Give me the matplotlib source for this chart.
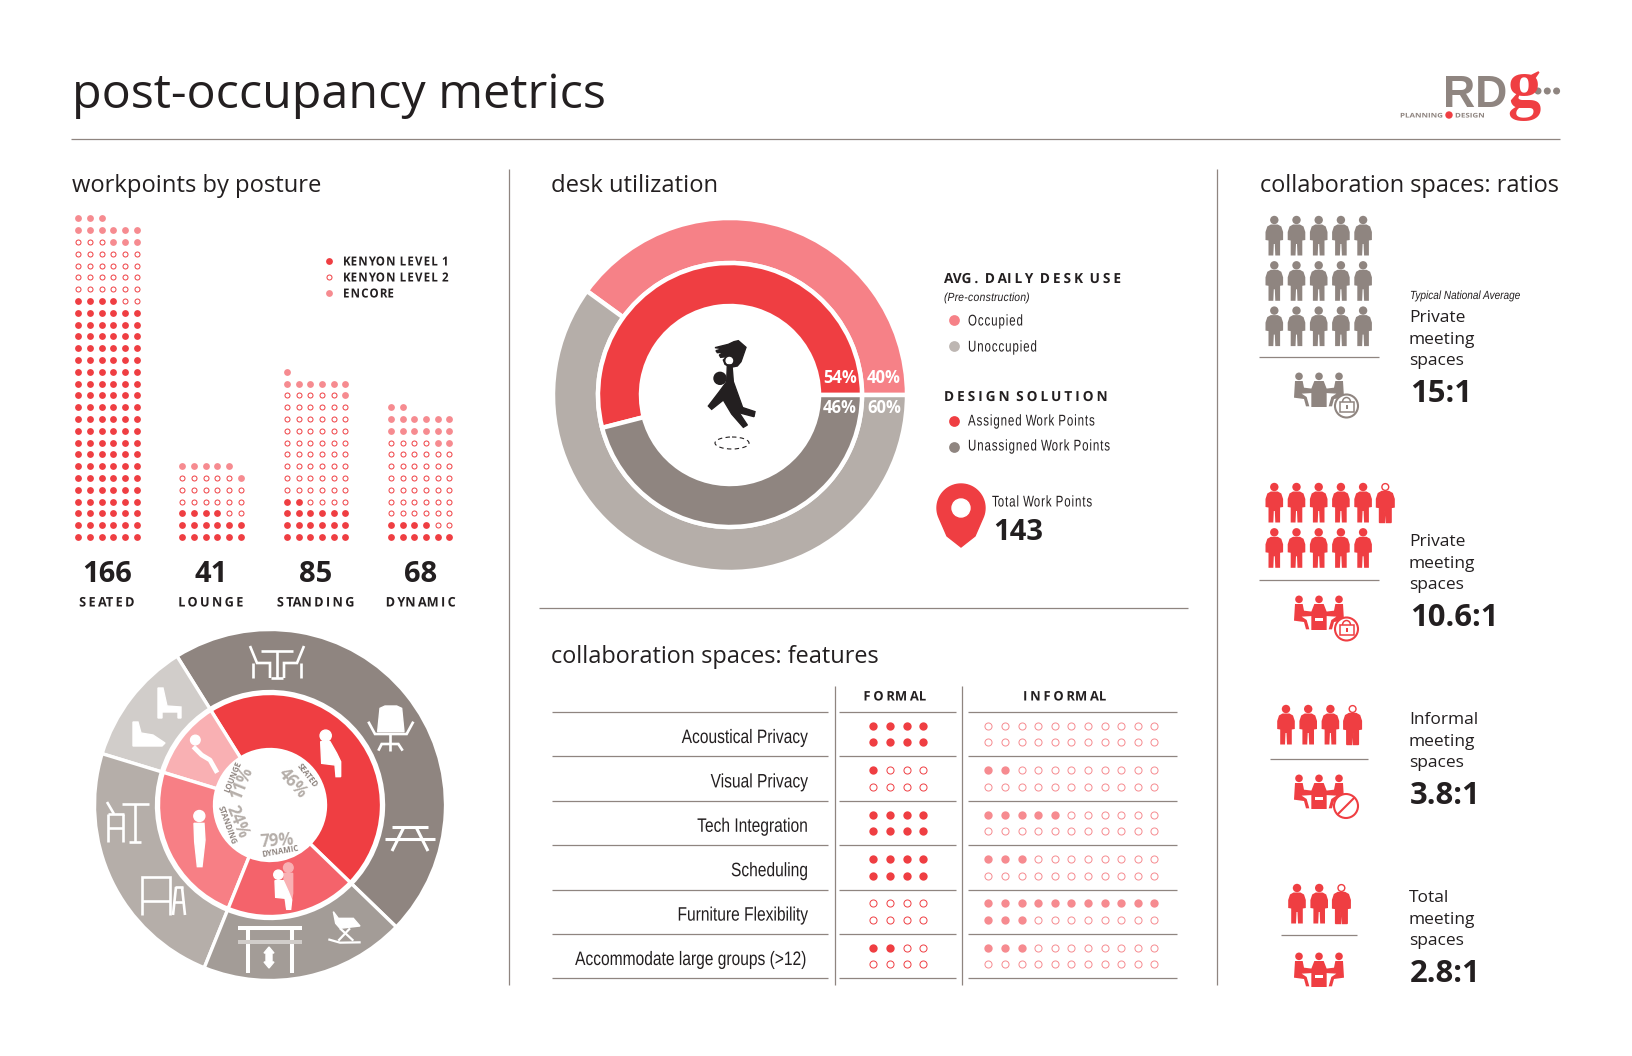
import matplotlib
matplotlib.use('Agg')
import matplotlib.pyplot as plt
import numpy as np
from matplotlib.patches import Circle, Ellipse, Polygon, Rectangle, Arc
from matplotlib.patheffects import AbstractPathEffect
from matplotlib.path import Path
from matplotlib.transforms import Affine2D

W, H = 1632, 1056
RED = '#EF3E42'
PINK = '#F68B90'
GRAY = '#8F8580'
LGRAY = '#B5AEA9'
INK = '#231F20'
FONT = 'Open Sans'
LIGHT = 'Liberation Sans'

# workpoints by posture
postures = ['SEATED', 'LOUNGE', 'STANDING', 'DYNAMIC']
posture_totals = [166, 41, 85, 68]
level1 = [124, 16, 20, 10]
level2 = [29, 19, 57, 42]
encore = [12, 6, 8, 16]
posture_pct = ['46%', '11%', '24%', '79%']

# desk utilization
desk_use = [40, 60]
design_solution = [54, 46]
total_points = 143

# collaboration features, filled dots out of 8 and 22
features = ['Acoustical Privacy', 'Visual Privacy', 'Tech Integration', 'Scheduling',
            'Furniture Flexibility', 'Accommodate large groups (>12)']
formal = [8, 1, 8, 8, 0, 2]
informal = [0, 2, 5, 3, 14, 3]

# ratios, people per row
ratio_rows = [[5, 5, 5], [5.6, 5], [3.8], [2.8]]
ratio_labels = ['15:1', '10.6:1', '3.8:1', '2.8:1']
ratio_names = ['Private', 'Private', 'Informal', 'Total']

fig = plt.figure(figsize=(W / 100, H / 100), dpi=100, facecolor='white')
ax = fig.add_axes([0, 0, 1, 1], zorder=5)
ax.set_xlim(0, W)
ax.set_ylim(H, 0)
ax.axis('off')
ax.patch.set_visible(False)


class Fit(AbstractPathEffect):
    # squeeze a text sideways and space its letters, the fonts here have no condensed cut
    def __init__(self, sx=1.0, track=0.0, anchor=0.0):
        super().__init__()
        self.sx, self.track, self.anchor = sx, track, anchor

    def draw_path(self, renderer, gc, tpath, affine, rgbFace=None):
        p = affine.transform_path(tpath)
        v = p.vertices.copy()
        c = p.codes
        x0, x1 = v[:, 0].min(), v[:, 0].max()
        fixed = x0 + self.anchor * (x1 - x0)
        starts = list(np.where(c == Path.MOVETO)[0]) + [len(c)]
        parts = sorted((v[a:b, 0].min(), v[a:b, 0].max(), a, b) for a, b in zip(starts[:-1], starts[1:]))
        k, right = -1, -1e9
        v[:, 0] *= self.sx
        for lo, hi, a, b in parts:
            if lo > right:
                k += 1
            right = max(right, hi)
            v[a:b, 0] += k * self.track
        n0, n1 = v[:, 0].min(), v[:, 0].max()
        v[:, 0] += fixed - (n0 + self.anchor * (n1 - n0))
        renderer.draw_path(gc, Path(v, c), Affine2D(), rgbFace)


def txt(x, y, s, size, family=FONT, weight='normal', color=INK, ha='left', va='center', fit=None, **kw):
    t = ax.text(x, y, s, fontsize=size, family=family, weight=weight, color=color, ha=ha, va=va, **kw)
    if fit:
        t.set_path_effects([Fit(fit[0], fit[1], {'left': 0, 'center': 0.5, 'right': 1}[ha])])
    return t


def rule(x0, x1, y0, y1=None, lw=0.9):
    ax.plot([x0, x1], [y0, y0 if y1 is None else y1], color=GRAY, lw=lw, solid_capstyle='butt')


def dots(xs, ys, color, hollow, size, hollow_size):
    if hollow:
        ax.scatter(xs, ys, s=hollow_size, facecolors='white', edgecolors=color, linewidths=0.7)
    else:
        ax.scatter(xs, ys, s=size, color=color, linewidths=0)


def donut(cx, cy, R, values, colors, start, hole, sep, outer=None):
    a = fig.add_axes([(cx - R) / W, 1 - (cy + R) / H, 2 * R / W, 2 * R / H], zorder=1)
    rad = 1 if outer is None else outer / R
    a.pie(values, colors=colors, startangle=start, counterclock=True, radius=rad,
          wedgeprops=dict(width=rad - hole / R, edgecolor='white', linewidth=sep))
    a.set_xlim(-1, 1)
    a.set_ylim(-1, 1)
    return a


def strokes(cx, cy, segs, lw=1.9, color='white', alpha=1):
    for seg in segs:
        p = np.array(seg, dtype=float)
        ax.plot(cx + p[:, 0], cy + p[:, 1], color=color, lw=lw, alpha=alpha,
                solid_capstyle='butt', solid_joinstyle='miter')


def z2(pts):
    return [(80 + x / 3, 600 + y / 3) for x, y in pts]


def z3(pts):
    return [(190 + x / 3, 880 + y / 3) for x, y in pts]


# header
txt(72, 95, 'post-occupancy metrics', 34.8)
rule(71, 1560, 138.5)
txt(1507, 107, 'RD', 32, family=LIGHT, weight='bold', color=GRAY, ha='right', va='baseline')
txt(1507, 107, 'g', 48, family='Liberation Serif', weight='bold', color=RED, va='baseline')
for i in range(3):
    ax.add_patch(Circle((1538 + i * 9.3, 91), 2.8, color=GRAY))
txt(1400, 116, 'PLANNING', 4.6, weight='bold', color=GRAY, fit=(1.25, 0))
ax.add_patch(Circle((1449, 115), 3, color=RED))
txt(1455, 116, 'DESIGN', 4.6, weight='bold', color=GRAY, fit=(1.25, 0))

# section titles and separators
txt(72, 186, 'workpoints by posture', 17.1)
txt(551, 186, 'desk utilization', 17.1)
txt(1260, 186, 'collaboration spaces: ratios', 16.9)
txt(551, 657, 'collaboration spaces: features', 16.9)
rule(509, 509, 169, 985)
rule(1217, 1217, 169, 985)
rule(539, 1188, 608)

# dot columns
col_left = [78.3, 182.3, 287, 391]
centers = [107, 211, 316, 421]
step_x, step_y = 11.65, 11.8
bottom = 537
for k in range(4):
    n = 0
    for count, color, hollow in [(level1[k], RED, False), (level2[k], RED, True), (encore[k], PINK, False)]:
        idx = np.arange(n, n + count)
        dots(col_left[k] + (idx % 6) * step_x, bottom - (idx // 6) * step_y, color, hollow, 24, 13)
        n += count
    txt(centers[k], 574, str(posture_totals[k]), 21, weight='bold', ha='center')
    txt(centers[k], 603, postures[k], 9.5, weight='bold', ha='center', fit=(0.96, 2.4))

for y, s, color, hollow in [(261, 'KENYON LEVEL 1', RED, False), (277, 'KENYON LEVEL 2', RED, True),
                            (293, 'ENCORE', PINK, False)]:
    dots([329], [y], color, hollow, 24, 13)
    txt(343, y + 1, s, 9, weight='bold', fit=(0.92, 1.2))

# posture wheel
wheel = (270, 805)
donut(*wheel, 177, posture_totals, [GRAY, '#D1CDCA', LGRAY, '#A39C97'], -44, 113.5, 2.4, outer=175.5)
donut(*wheel, 177, posture_totals, [RED, '#F9B0B3', '#F77F85', '#F4636B'], -44, 55.5, 2.4, outer=111.5)

# table and two chairs
strokes(278, 663, [[(-17, -12), (15, -12)], [(-1, -12), (-1, 15)], [(-7, 15), (5, 15)],
                   [(-28, -17), (-21, 0), (-8, 0), (-8, 15)], [(-25, 0), (-25, 15)],
                   [(26, -17), (19, 0), (6, 0), (6, 15)], [(23, 0), (23, 15)]])
# office chair
ax.add_patch(Polygon(z2([(900, 325), (915, 318), (950, 318), (965, 325), (972, 395), (893, 395)]), color='white'))
strokes(0, 0, [z2([(865, 365), (885, 402), (980, 402), (1000, 365)]), z2([(930, 400), (930, 432)]),
               z2([(895, 452), (905, 432), (955, 432), (968, 452)]), z2([(930, 432), (930, 452)])])
# picnic table
strokes(410, 838, [[(-18, -11), (18, -11)], [(-25, 1), (25, 1)], [(-6, -11), (-18, 13)], [(6, -11), (18, 13)]], lw=2.2)
# rocker
ax.add_patch(Polygon(z3([(430, 95), (445, 115), (490, 115), (510, 138), (450, 145), (437, 130)]), color='white'))
strokes(0, 0, [z3([(450, 145), (490, 182)]), z3([(480, 145), (445, 182)]), z3([(415, 178), (450, 188), (512, 187)])], lw=1.6)
# sit-stand desk
strokes(270, 951, [[(-32, -23), (32, -23)], [(-22, -23), (-22, 22)], [(22, -23), (22, 22)]], lw=2.9)
strokes(270, 951, [[(-32, -9), (32, -9)]], lw=2.9, color='#D1CDCA')
ax.add_patch(Polygon([(269, 947), (274, 953), (272, 953), (272, 962), (274, 962), (269, 968), (264, 962), (266, 962),
                      (266, 953), (264, 953)], color='white'))
# drafting table and stool
strokes(163, 896, [[(-21, 19), (-21, -19), (7, -19), (7, 19)], [(-21, 5), (7, 5)], [(12, -9), (20, -9)],
                   [(10, 19), (13, -9)], [(22, 19), (19, -9)], [(11, 6), (21, 6)]])
# high table and stool
strokes(128, 822, [[(-6, -18), (21, -18)], [(7, -18), (7, 20)], [(1, 20), (13, 20)], [(-21, -20), (-14, -8)],
                   [(-20, -8), (-4, -8)], [(-20, -8), (-20, 20)], [(-5, -8), (-5, 20)], [(-20, 6), (-5, 6)]])
# lounge seats
ax.add_patch(Polygon([(158, 688), (163, 688), (167, 706), (181, 707), (181, 718), (178, 718), (178, 712),
                      (162, 712), (162, 718), (158, 718)], color='white'))
ax.add_patch(Polygon([(133, 722), (138, 722), (141, 733), (153, 735), (165, 743), (162, 746), (133, 746)], color='white'))

# people in the inner ring
ax.add_patch(Circle(z2([(737, 407)])[0], 5.6, color='white'))
ax.add_patch(Polygon(z2([(722, 425), (750, 425), (770, 460), (782, 485), (782, 530), (768, 530), (765, 495), (725, 490)]), color='white'))
ax.add_patch(Circle(z2([(346, 420)])[0], 4.8, color='white'))
p = np.array(z2([(345, 445), (365, 465), (390, 480), (408, 512)]))
ax.plot(p[:, 0], p[:, 1], color='white', lw=3.4)
ax.add_patch(Circle(z2([(358, 648)])[0], 5.5, color='white'))
ax.add_patch(Polygon(z2([(342, 670), (372, 670), (375, 720), (366, 800), (352, 800), (344, 725)]), color='white'))
ax.add_patch(Circle(z2([(625, 803)])[0], 4.8, color='#F9B0B3'))
ax.add_patch(Polygon(z2([(612, 820), (638, 820), (638, 880), (630, 925), (620, 925), (612, 880)]), color='#F9B0B3'))
ax.add_patch(Circle(z2([(595, 824)])[0], 4.6, color='white'))
ax.add_patch(Polygon(z2([(585, 842), (610, 842), (625, 875), (635, 900), (632, 928), (620, 928), (616, 895), (587, 892)]), color='white'))

# wheel hub labels
hub = [(293, 783, -48, 307, 775, -52, 0), (242, 783, 68, 233, 777, 68, 1),
       (237, 822, -68, 227, 825, -70, 2), (277, 841, 4, 280, 851, 10, 3)]
for x, y, r, x2, y2, r2, k in hub:
    txt(x, y, posture_pct[k], 12, weight='bold', color=LGRAY, ha='center', rotation=r, rotation_mode='anchor')
    txt(x2, y2, postures[k], 5.6, weight='bold', color=GRAY, ha='center', rotation=r2, rotation_mode='anchor')

# desk donut
center = (730, 395)
donut(*center, 178, desk_use, ['#F68187', LGRAY], 0, 132, 3.2, outer=177)
donut(*center, 178, design_solution, [RED, GRAY], 0, 89, 3.2, outer=132)
for x, y, s in [(840, 378, '54%'), (884, 378, '40%'), (840, 408, '46%'), (884, 408, '60%')]:
    txt(x, y, s, 12, weight='bold', color='white', ha='center')


def z5(pts):
    return [(660 + x / 3, 310 + y / 3) for x, y in pts]


ax.add_patch(Polygon(z5([(165, 113), (205, 103), (222, 95), (235, 92), (258, 112), (243, 155), (232, 168), (212, 172),
                         (195, 163), (190, 150), (200, 140), (182, 142), (178, 135), (192, 127), (172, 128), (168, 122),
                         (188, 116)]), color=INK))
ax.add_patch(Circle(z5([(208, 152)])[0], 3.2, color='white'))
ax.add_patch(Circle(z5([(180, 205)])[0], 6, color=INK))
ax.add_patch(Polygon(z5([(202, 165), (216, 165), (220, 215), (247, 290), (232, 300), (262, 345), (250, 352), (215, 312),
                         (190, 270), (155, 298), (145, 288), (178, 245), (200, 215)]), color=INK))
ax.add_patch(Polygon(z5([(225, 285), (285, 305), (282, 320), (225, 305)]), color=INK))
ax.add_patch(Ellipse((732, 443), 34, 12, fill=False, ec=INK, lw=0.8, ls=(0, (4, 3))))

# desk legend
narrow = (0.74, 0.9)
txt(944, 279, 'AVG. DAILY DESK USE', 10, weight='bold', fit=(0.98, 3))
txt(944, 298, '(Pre-construction)', 8.5, family=LIGHT, style='italic', fit=(0.88, 0.3))
txt(968, 321, 'Occupied', 11.2, family=LIGHT, fit=narrow)
txt(968, 347, 'Unoccupied', 11.2, family=LIGHT, fit=narrow)
txt(944, 397, 'DESIGN SOLUTION', 10, weight='bold', fit=(0.98, 3))
txt(968, 421, 'Assigned Work Points', 11.2, family=LIGHT, fit=narrow)
txt(968, 446, 'Unassigned Work Points', 11.2, family=LIGHT, fit=narrow)
ax.scatter([954], [320], s=60, color='#F68187', linewidths=0)
ax.scatter([954], [346], s=60, color='#BDB6B2', linewidths=0)
ax.scatter([954], [421], s=60, color=RED, linewidths=0)
ax.scatter([954], [447], s=60, color=GRAY, linewidths=0)

t = np.radians(np.arange(-25, 206, 5))
pin = [(961 + 24 * np.cos(a), 508 - 24 * np.sin(a)) for a in t] + [(947, 536), (961, 547), (975, 536)]
ax.add_patch(Polygon(pin, color=RED))
ax.add_patch(Circle((961, 508), 9, color='white'))
txt(992, 502, 'Total Work Points', 11.2, family=LIGHT, fit=narrow)
txt(993, 532, str(total_points), 21, weight='bold')

# features table
for x in [834.6, 962]:
    rule(x, x, 686, 985)
txt(895, 697, 'FORMAL', 9.5, weight='bold', ha='center', fit=(0.98, 2.8))
txt(1065, 697, 'INFORMAL', 9.5, weight='bold', ha='center', fit=(0.98, 2.8))
row_h = 44.4
for y0 in 712 + row_h * np.arange(7):
    rule(552, 828, y0)
    rule(839, 956, y0)
    rule(968, 1177, y0)
for i, name in enumerate(features):
    y = 738.5 + i * row_h
    txt(809, y, name, 14, family=LIGHT, ha='right', fit=(0.8, 0))
    top = 725.7 + i * row_h
    for j in range(8):
        dots([873.4 + (j % 4) * 16.6], [top + (j // 4) * 16.6], RED, j >= formal[i], 36, 26)
    for j in range(22):
        dots([988.4 + (j % 11) * 16.6], [top + (j // 11) * 16.6], PINK, j >= informal[i], 36, 26)

# ratios
body = [(-3.5, 8.5), (3.5, 8.5), (7, 10.5), (8.8, 16), (8.8, 24), (5.8, 24.5), (5.8, 39.5), (1, 39.5), (0.5, 28), (-0.5, 28),
        (-1, 39.5), (-5.8, 39.5), (-5.8, 24.5), (-8.8, 24), (-8.8, 16), (-7, 10.5)]


def person(cx, top, color, frac=1):
    pts = [(cx + x, top + y) for x, y in body]
    if frac < 1:
        # hollow outline, filled up from the feet
        ax.add_patch(Circle((cx, top + 4), 3.4, fill=False, ec=color, lw=1))
        ax.add_patch(Polygon(pts, fill=False, ec=color, lw=1))
        clip = Rectangle((cx - 12, top + (1 - frac) * 40), 24, 42, transform=ax.transData)
        ax.add_patch(Polygon(pts, color=color, lw=0, clip_path=clip))
    else:
        ax.add_patch(Circle((cx, top + 4), 4.2, color=color, lw=0))
        ax.add_patch(Polygon(pts, color=color, lw=0))


def meeting(cx, top, color, laptop=False):
    z = lambda pts, f=1: [(cx + f * (x - 117) / 3, top + (y - 18) / 3) for x, y in pts]
    ax.add_patch(Polygon(z([(103, 42), (131, 42), (140, 65), (140, 120), (94, 120), (94, 65)]), color=color, lw=0))
    side = [(45, 42), (68, 42), (72, 62), (97, 65), (97, 78), (65, 80), (80, 90), (88, 118), (78, 118), (72, 96), (42, 92)]
    ax.add_patch(Polygon(z(side), color=color, lw=0))
    ax.add_patch(Polygon(z(side, -1), color=color, lw=0))
    for hx in [57, 117, 177]:
        ax.add_patch(Circle(z([(hx, 28)])[0], 3.8, color=color, lw=0))
    if laptop:
        ax.add_patch(Rectangle(z([(105, 85)])[0], 8, 2.4, color='white', lw=0))


def lock(cx, cy, color):
    ax.add_patch(Circle((cx, cy), 11.5, fc='white', ec=color, lw=1.5))
    ax.add_patch(Rectangle((cx - 7, cy - 4), 14, 10, fc='white', ec=color, lw=1.1))
    ax.add_patch(Arc((cx, cy - 4), 8, 9, theta1=180, theta2=360, ec=color, lw=1.1))
    ax.add_patch(Rectangle((cx - 1, cy - 1), 2, 4, color=color, lw=0))


def no_sign(cx, cy, color):
    ax.add_patch(Circle((cx, cy), 12, fc='white', ec=color, lw=1.5))
    ax.plot([cx - 8, cx + 8], [cy + 8, cy - 8], color=color, lw=1.5)


group_tops = [216, 483, 705, 884]
row_lefts = [1274.3, 1274.3, 1286, 1297]
rule_y = [357.3, 580, 759, 935]
rule_span = [(1259, 1379), (1259, 1379), (1270, 1368), (1281, 1357)]
meet_top = [373, 596, 775, 953]
text_y = [318, 542, 720, 898]
value_y = [394, 618, 796, 974]
for g, rows in enumerate(ratio_rows):
    color = GRAY if g == 0 else RED
    for r, n in enumerate(rows):
        for c in range(int(np.ceil(n))):
            frac = min(1, n - c)
            person(row_lefts[g] + c * 22.2, group_tops[g] + r * 45.3, color, frac)
    rule(rule_span[g][0], rule_span[g][1], rule_y[g])
    meeting(1319, meet_top[g], color, laptop=g > 0)
    if g < 2:
        lock(1346.5, meet_top[g] + 33, color)
    elif g == 2:
        no_sign(1346, meet_top[g] + 31, color)
    for j, s in enumerate([ratio_names[g], 'meeting', 'spaces']):
        txt(1409, text_y[g] + j * 21.5, s, 12.5)
    txt(1410, value_y[g], ratio_labels[g], 22.3, weight='bold')
txt(1410, 296, 'Typical National Average', 8.5, family=LIGHT, style='italic', fit=(0.85, 0))

fig.savefig('out.png', dpi=100)
